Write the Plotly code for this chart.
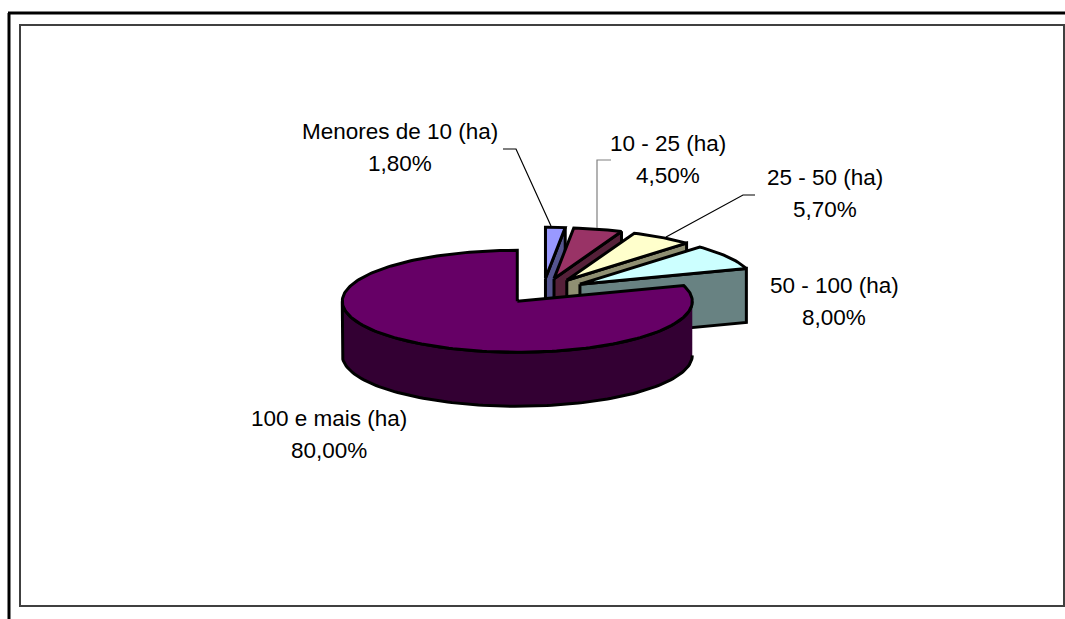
import numpy as np
import plotly.graph_objects as go

categories = ["Menores de 10 (ha)", "10 - 25 (ha)", "25 - 50 (ha)", "50 - 100 (ha)", "100 e mais (ha)"]
shares = [1.8, 4.5, 5.7, 8.0, 80.0]
share_labels = ["1,80%", "4,50%", "5,70%", "8,00%", "80,00%"]
top_colors = ["#9999FF", "#993366", "#FFFFCC", "#CCFFFF", "#660066"]
side_colors = ["#55558F", "#552039", "#8F8F72", "#688282", "#330033"]

# where the pie and its labels sit on the page, in pixels
W, H = 1065, 619
cx, cy = 543, 291
rx, ry = 175, 51
depth = 54
explode = 0.25
label_xy = [(400, 131), (668, 143), (825, 177), (834, 285.5), (329, 418)]
line_gap = 32
leaders = [
    ([503, 516, 551], [149, 149, 226], "#000000"),
    ([611, 597, 597], [160, 160, 228], "#808080"),
    ([755, 743, 666], [195, 195, 237], "#000000"),
]


def rim(theta, ax, ay):
    return ax + rx * np.sin(theta), ay - ry * np.cos(theta)


def poly(fig, xs, ys, color):
    fig.add_trace(go.Scatter(x=xs, y=ys, mode="lines", fill="toself", fillcolor=color,
                             line=dict(color="black", width=3), hoverinfo="skip", showlegend=False))


fig = go.Figure()

edges = np.radians(np.concatenate([[0], np.cumsum(shares)]) * 3.6)
for i in range(len(shares)):
    start, end = edges[i], edges[i + 1]
    mid = (start + end) / 2
    ax, ay = rim(mid, cx, cy)
    ax, ay = cx + (ax - cx) * explode, cy + (ay - cy) * explode

    # outer wall, only the part facing the viewer
    lo, hi = max(start, np.pi / 2), min(end, 3 * np.pi / 2)
    if hi > lo:
        t = np.linspace(lo, hi, 120)
        wx, wy = rim(t, ax, ay)
        poly(fig, list(wx) + list(wx[::-1]), list(wy) + list(wy[::-1] + depth), side_colors[i])

    # cut face on the clockwise edge
    if end < np.pi:
        ex, ey = rim(end, ax, ay)
        poly(fig, [ax, ex, ex, ax, ax], [ay, ey, ey + depth, ay + depth, ay], side_colors[i])

    # top of the slice
    t = np.linspace(start, end, max(int((end - start) * 40), 8))
    tx, ty = rim(t, ax, ay)
    poly(fig, [ax] + list(tx) + [ax], [ay] + list(ty) + [ay], top_colors[i])

for xs, ys, col in leaders:
    fig.add_trace(go.Scatter(x=xs, y=ys, mode="lines", line=dict(color=col, width=1.2),
                             hoverinfo="skip", showlegend=False))

font = dict(family="Liberation Sans", size=22.5, color="black")
for name, val, (lx, ly) in zip(categories, share_labels, label_xy):
    fig.add_annotation(x=lx, y=ly, text=name, showarrow=False, font=font)
    fig.add_annotation(x=lx, y=ly + line_gap, text=val, showarrow=False, font=font)

# outer frame of the sheet and chart area border
fig.add_shape(type="line", x0=9, x1=9, y0=13, y1=H, line=dict(color="black", width=3))
fig.add_shape(type="line", x0=8, x1=W, y0=13, y1=13, line=dict(color="black", width=3))
fig.add_shape(type="rect", x0=20, x1=1064, y0=25, y1=606, line=dict(color="#404040", width=2), layer="below")

fig.update_xaxes(range=[0, W], visible=False, fixedrange=True)
fig.update_yaxes(range=[H, 0], visible=False, fixedrange=True)
fig.update_layout(width=W, height=H, margin=dict(l=0, r=0, t=0, b=0),
                  paper_bgcolor="white", plot_bgcolor="white", showlegend=False)

fig.write_html("out.html", config={"displayModeBar": False},
               post_script="document.body.style.margin='0';document.body.style.overflow='hidden';")
